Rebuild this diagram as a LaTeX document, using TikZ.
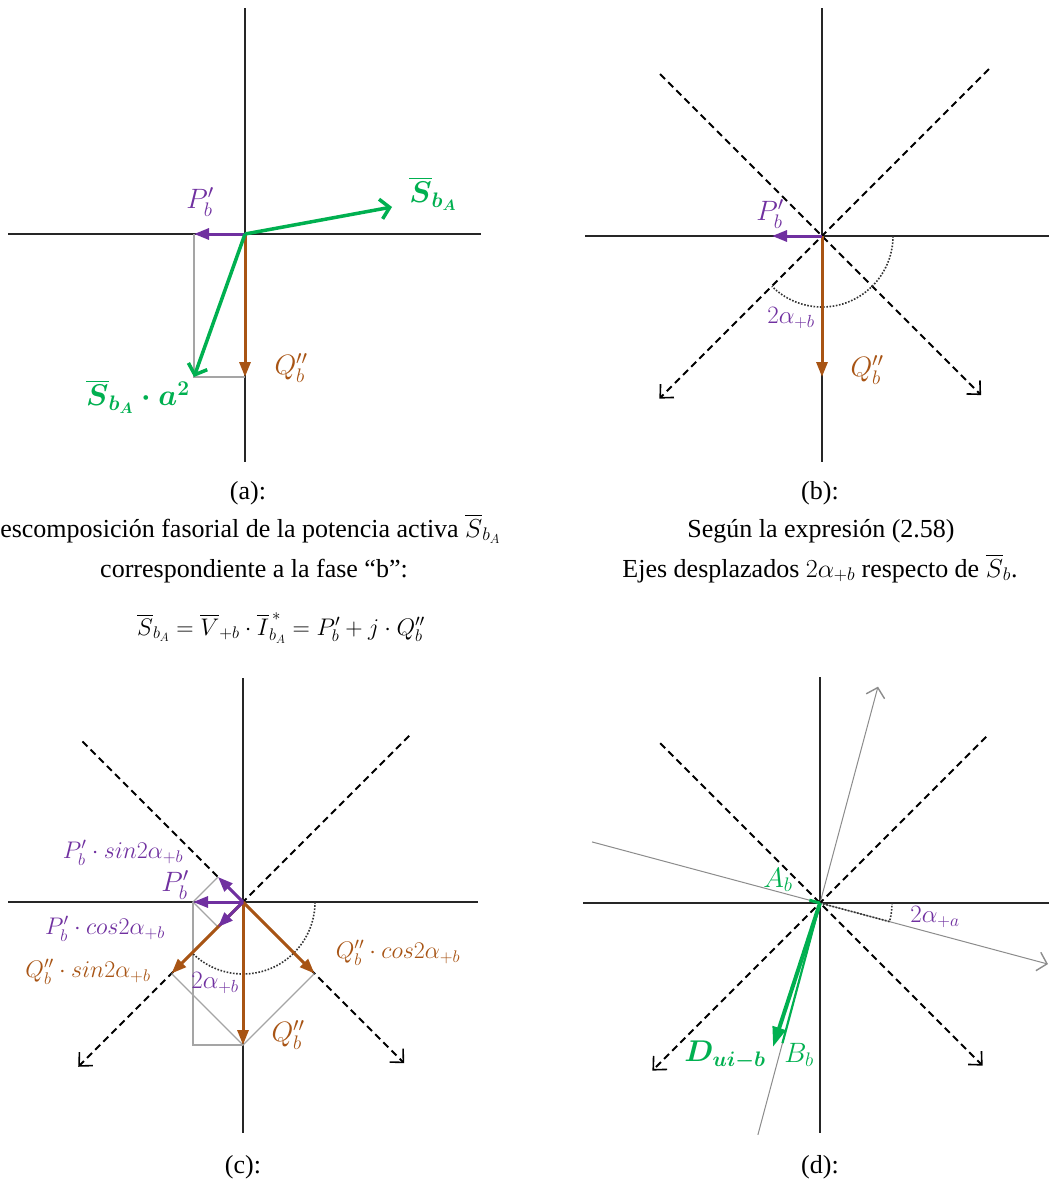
\RequirePackage{fix-cm}
\documentclass[tikz,border=0pt]{standalone}
\usepackage{amsmath}
\usepackage{fontspec}
\setmainfont{Liberation Serif}
\usetikzlibrary{arrows.meta}
\definecolor{vgreen}{RGB}{0,176,80}
\definecolor{vpurple}{RGB}{112,48,160}
\definecolor{vbrown}{RGB}{168,84,20}
\definecolor{lgray}{RGB}{165,165,165}
\tikzset{
  axisline/.style={line width=2pt, draw=black!85},
  diagline/.style={line width=1.8pt, dash pattern=on 7pt off 4.5pt, -{Straight Barb[length=10pt,width=19pt,line width=1.6pt]}},
  vecP/.style={draw=vpurple, line width=3pt, -{Triangle[length=15pt,width=11pt]}},
  vecQ/.style={draw=vbrown, line width=3pt, -{Triangle[length=15pt,width=11pt]}},
  vecG/.style={draw=vgreen, line width=3.5pt, -{Straight Barb[length=9pt,width=20pt]}},
  vecD/.style={draw=vgreen, line width=4pt, -{Triangle[length=20pt,width=13pt]}},
  projline/.style={draw=lgray, line width=1.1pt},
  gline/.style={draw=black!45, line width=1pt, -{Straight Barb[length=9pt,width=19pt,line width=1.4pt]}},
  dotarc/.style={draw=black!80, line width=1.6pt, dash pattern=on 1.6pt off 1.6pt},
  lab/.style={font=\fontsize{28}{32}\selectfont, inner sep=0pt},
  slab/.style={font=\fontsize{24}{28}\selectfont, inner sep=0pt},
  alab/.style={font=\fontsize{25}{29}\selectfont, inner sep=0pt, text=vpurple},
  blab/.style={font=\fontsize{30}{34}\selectfont\boldmath, inner sep=0pt, text=vgreen},
  capt/.style={font=\fontsize{26}{31}\selectfont, anchor=base, inner sep=0pt},
}
\begin{document}
\begin{tikzpicture}[x=1pt,y=1pt]
\useasboundingbox[fill=white] (0,0) rectangle (1049,-1183);

% ---------------- panel (a)
\begin{scope}[shift={(245,-234)}]
  \coordinate (aO) at (0,0);
  \coordinate (aT) at (0,226);  \coordinate (aB) at (0,-228);
  \coordinate (aL) at (-237,0); \coordinate (aR) at (236,0);
  \coordinate (aP) at (-51,0);  \coordinate (aQ) at (0,-143);
  \coordinate (aC) at (-51,-143); \coordinate (aS) at (147,27);
  \draw[axisline] (aL) -- (aR);
  \draw[axisline] (aT) -- (aB);
  \draw[projline] (aP) -- (aC) -- (aQ);
  \draw[vecQ] (aO) -- (aQ);
  \draw[vecP] (aO) -- (aP);
  \draw[vecG] (aO) -- (aS);
  \draw[vecG] (aO) -- (aC);
  \node[lab, text=vpurple] (aPl) at (-45,32) {$P'_b$};
  \node[lab, text=vbrown] (aQl) at (46,-134) {$Q''_b$};
  \node[blab] (aSl) at (188,40) {$\overline{S}_{b_A}$};
  \node[blab] (aSal) at (-107,-163) {$\overline{S}_{b_A}\cdot a^2$};
\end{scope}
\node[capt] (capa1) at (248,-499) {(a):};
\node[capt] (capa2) at (241,-537) {Descomposición fasorial de la potencia activa $\overline{S}_{b_A}$};
\node[capt] (capa3) at (254,-577) {correspondiente a la fase “b”:};
\node[capt, font=\fontsize{24}{29}\selectfont] (capa4) at (281,-635) {$\overline{S}_{b_A}=\overline{V}_{+b}\cdot\overline{I}^{\,*}_{b_A}=P'_b+j\cdot Q''_b$};

% ---------------- panel (b)
\begin{scope}[shift={(822,-236)}]
  \coordinate (bO) at (0,0);
  \coordinate (bT) at (0,228);  \coordinate (bB) at (0,-226);
  \coordinate (bL) at (-237,0); \coordinate (bR) at (240,0);
  \coordinate (bUL) at (135:229); \coordinate (bDR) at (-45:225);
  \coordinate (bUR) at (45:236);  \coordinate (bDL) at (-135:230);
  \coordinate (bP) at (-50,0); \coordinate (bQ) at (0,-141);
  \draw[axisline] (bL) -- (bR);
  \draw[axisline] (bT) -- (bB);
  \draw[diagline] (bUL) -- (bDR);
  \draw[diagline] (bUR) -- (bDL);
  \draw[dotarc] (0:71) arc[start angle=0, end angle=-135, radius=71];
  \draw[vecQ] (bO) -- (bQ);
  \draw[vecP] (bO) -- (bP);
  \node[lab, text=vpurple] (bPl) at (-52,22) {$P'_b$};
  \node[lab, text=vbrown] (bQl) at (45,-134) {$Q''_b$};
  \node[alab] (bal) at (-31,-82) {$2\alpha_{+b}$};
\end{scope}
\node[capt] (capb1) at (820,-499) {(b):};
\node[capt] (capb2) at (821,-537) {Según la expresión (2.58)};
\node[capt] (capb3) at (820,-577) {Ejes desplazados $2\alpha_{+b}$ respecto de $\overline{S}_b$.};

% ---------------- panel (c)
\begin{scope}[shift={(243,-902)}]
  \coordinate (cO) at (0,0);
  \coordinate (cT) at (0,224);  \coordinate (cB) at (0,-231);
  \coordinate (cL) at (-235,0); \coordinate (cR) at (235,0);
  \coordinate (cUL) at (135:227); \coordinate (cDR) at (-45:228);
  \coordinate (cUR) at (45:235);  \coordinate (cDL) at (-135:233);
  \coordinate (cP) at (-50,0); \coordinate (cQ) at (0,-143);
  \coordinate (cC) at (-50,-143);
  \coordinate (cPs) at (-25,25); \coordinate (cPc) at (-25,-25);
  \coordinate (cQs) at (-71.5,-71.5); \coordinate (cQc) at (71.5,-71.5);
  \draw[axisline] (cL) -- (cR);
  \draw[axisline] (cT) -- (cB);
  \draw[diagline] (cUL) -- (cDR);
  \draw[diagline] (cUR) -- (cDL);
  \draw[projline] (cP) -- (cC) -- (cQ);
  \draw[projline] (cPs) -- (cP) -- (cPc);
  \draw[projline] (cQs) -- (cQ) -- (cQc);
  \draw[dotarc] (0:72) arc[start angle=0, end angle=-135, radius=72];
  \draw[vecQ] (cO) -- (cQ);
  \draw[vecQ] (cO) -- (cQs);
  \draw[vecQ] (cO) -- (cQc);
  \draw[vecP] (cO) -- (cP);
  \draw[vecP] (cO) -- (cPs);
  \draw[vecP] (cO) -- (cPc);
  \node[slab, text=vpurple] (cPsl) at (-120,49) {$P'_b\cdot sin2\alpha_{+b}$};
  \node[lab, text=vpurple] (cPl) at (-68,17) {$P'_b$};
  \node[slab, text=vpurple] (cPcl) at (-138,-27) {$P'_b\cdot cos2\alpha_{+b}$};
  \node[slab, text=vbrown] (cQsl) at (-155,-70) {$Q''_b\cdot sin2\alpha_{+b}$};
  \node[slab, text=vbrown] (cQcl) at (155,-51) {$Q''_b\cdot cos2\alpha_{+b}$};
  \node[lab, text=vbrown] (cQl) at (45,-133) {$Q''_b$};
  \node[alab] (cal) at (-28,-81) {$2\alpha_{+b}$};
\end{scope}
\node[capt] (capc) at (243,-1173) {(c):};

% ---------------- panel (d)
\begin{scope}[shift={(820,-903)}]
  \coordinate (dO) at (0,0);
  \coordinate (dT) at (0,226);  \coordinate (dB) at (0,-230);
  \coordinate (dL) at (-237,0); \coordinate (dR) at (240,0);
  \coordinate (dUL) at (135:226); \coordinate (dDR) at (-45:230);
  \coordinate (dUR) at (45:235);  \coordinate (dDL) at (-135:237);
  \coordinate (dG1a) at (165:236); \coordinate (dG1b) at (-15:236);
  \coordinate (dG2a) at (255:240); \coordinate (dG2b) at (75:224);
  \coordinate (dD) at (-47,-144);
  \coordinate (dBb) at (255:145);
  \coordinate (dAb) at (165:11);
  \draw[axisline] (dL) -- (dR);
  \draw[axisline] (dT) -- (dB);
  \draw[gline] (dG1a) -- (dG1b);
  \draw[gline] (dG2a) -- (dG2b);
  \draw[diagline] (dUL) -- (dDR);
  \draw[diagline] (dUR) -- (dDL);
  \draw[dotarc] (dO) -- (-15:72) arc[start angle=-15, end angle=0, radius=72];
  \draw[draw=vgreen, line width=2.2pt] (dO) -- (dBb);
  \draw[vecD] (dO) -- (dD);
  \draw[draw=vgreen, line width=3pt] (dO) -- (dAb);
  \node[lab, text=vgreen] (dAl) at (-42,23) {$A_b$};
  \node[lab, text=vgreen] (dBl) at (-21,-152) {$B_b$};
  \node[blab] (dDl) at (-95,-152) {$D_{ui-b}$};
  \node[alab] (dal) at (115,-14) {$2\alpha_{+a}$};
\end{scope}
\node[capt] (capd) at (820,-1173) {(d):};
\end{tikzpicture}
\end{document}
